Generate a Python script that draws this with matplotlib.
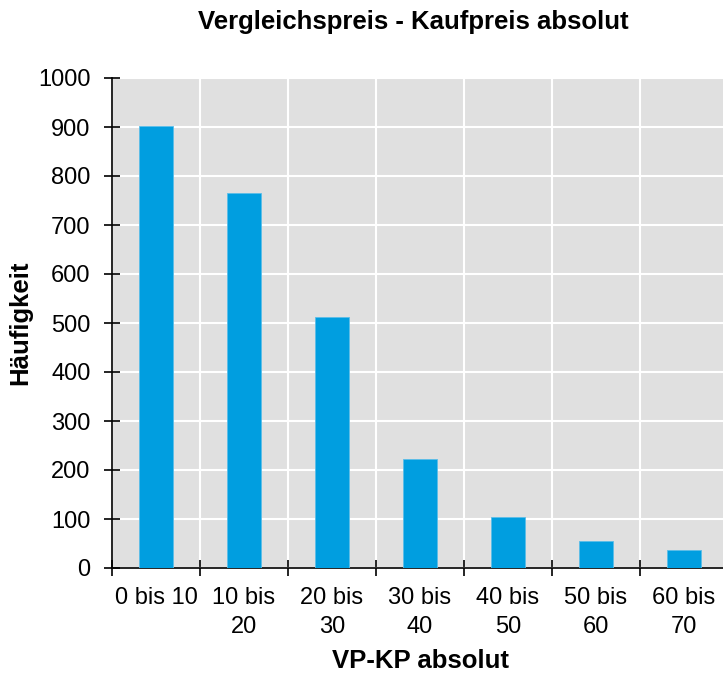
"""Vergleichspreis - Kaufpreis absolut: Häufigkeit je Klasse."""

import numpy as np
import matplotlib.pyplot as plt

plt.rcParams["font.family"] = ["Liberation Sans", "DejaVu Sans"]

categories = ["0 bis 10", "10 bis\n20", "20 bis\n30", "30 bis\n40",
              "40 bis\n50", "50 bis\n60", "60 bis\n70"]
counts = [902, 765, 512, 222, 104, 55, 37]
y_ticks = list(range(0, 1001, 100))

BAR_COLOR = "#009EE0"
BG_COLOR = "#E0E0E0"


def main():
    fig = plt.figure(figsize=(7.23, 6.75), dpi=100)
    ax = fig.add_axes([112 / 723, 107 / 675, 616 / 723, 490 / 675])

    x = np.arange(len(categories))
    ax.set_facecolor(BG_COLOR)
    ax.bar(x, counts, width=0.39, color=BAR_COLOR, edgecolor="#5BBDE8",
           linewidth=0.6, zorder=3)

    ax.set_xlim(-0.5, len(categories) - 0.5)
    ax.set_ylim(0, 1000)
    ax.set_yticks(y_ticks)
    ax.tick_params(axis="y", labelsize=17, direction="inout", length=11,
                   width=1.2, pad=10)

    # category labels in the middle, ticks at the boundaries
    ax.set_xticks(x)
    ax.set_xticklabels(categories, fontsize=17, linespacing=1.4)
    ax.tick_params(axis="x", which="major", length=0, pad=14)
    ax.set_xticks(np.arange(len(categories) + 1) - 0.5, minor=True)
    ax.tick_params(axis="x", which="minor", direction="inout", length=12,
                   width=1.2)

    ax.grid(True, which="major", axis="y", color="white", linewidth=1.5,
            zorder=1)
    ax.grid(True, which="minor", axis="x", color="white", linewidth=1.5,
            zorder=1)
    ax.set_axisbelow(True)

    for side in ("top", "right"):
        ax.spines[side].set_visible(False)
    ax.spines["left"].set_linewidth(1.2)
    ax.spines["bottom"].set_linewidth(1.2)

    ax.set_xlabel("VP-KP absolut", fontsize=18.5, fontweight="bold",
                  labelpad=8)
    ax.set_ylabel("Häufigkeit", fontsize=18.5, fontweight="bold",
                  labelpad=4)
    fig.text(0.572, 1 - 22 / 675, "Vergleichspreis - Kaufpreis absolut",
             ha="center", va="center", fontsize=18.5, fontweight="bold")

    fig.savefig("out.png", dpi=100)


if __name__ == "__main__":
    main()
